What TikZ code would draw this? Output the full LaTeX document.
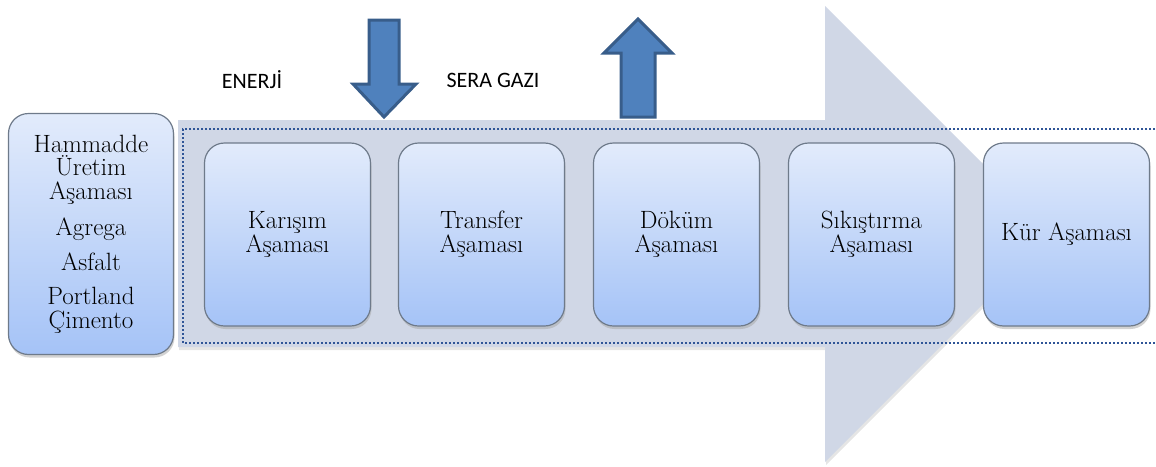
\documentclass[tikz,border=0pt]{standalone}
\usepackage{fontspec}
\usepackage{tikz}
\usetikzlibrary{shadows}
\newfontfamily\labelfont{Carlito}
\definecolor{flowgray}{HTML}{D0D7E6}
\definecolor{boxtop}{HTML}{E2EBFB}
\definecolor{boxbottom}{HTML}{A5C3F7}
\definecolor{boxedge}{HTML}{6E7A8A}
\definecolor{dotblue}{HTML}{2F5597}
\definecolor{arrowfill}{HTML}{4F81BD}
\definecolor{arrowedge}{HTML}{385D8A}
\newcommand{\stagetext}{\fontsize{25}{23.5}\selectfont}

\begin{document}
\begin{tikzpicture}[x=1pt,y=-1pt,
  stagebox/.style={draw=boxedge,line width=1.2pt,top color=boxtop,bottom color=boxbottom,rounded corners=20pt,align=center,font=\stagetext,drop shadow={shadow xshift=1pt,shadow yshift=-3pt,fill=black!35,opacity=0.5}},
  flowarrow/.style={fill=arrowfill,draw=arrowedge,line width=3pt,line join=miter},
  flowlabel/.style={font=\labelfont\fontsize{22}{24}\selectfont}]
\useasboundingbox (0,0) rectangle (1156,466);

% big process arrow
\fill[flowgray,drop shadow={shadow xshift=1pt,shadow yshift=-3pt,fill=black!20,opacity=0.5}] (178,120) -- (825,120) -- (825,6) -- (1053,234) -- (825,462) -- (825,347) -- (178,347) -- cycle;
\draw[dotblue,line width=2pt,dash pattern=on 2pt off 2pt] (1155,129) -- (183,129) -- (183,343) -- (1155,343);

% inputs and outputs
\draw[flowarrow] (369,20) -- (399,20) -- (399,84) -- (416,84) -- (384,117) -- (353,84) -- (369,84) -- cycle;
\draw[flowarrow] (621,117) -- (655,117) -- (655,53) -- (672,53) -- (638,19) -- (604,53) -- (621,53) -- cycle;
\node[flowlabel] (enerji) at (252,80) {ENERJİ};
\node[flowlabel] (seragazi) at (493,80) {SERA GAZI};

% stages
\node[stagebox,minimum width=165pt,minimum height=241pt] (hammadde) at (91,234) {Hammadde\\Üretim\\Aşaması\\[13pt]Agrega\\[11pt]Asfalt\\[11pt]Portland\\Çimento};
\node[stagebox,minimum width=166pt,minimum height=183pt] (karisim) at (287.5,234.5) {Karışım\\[0.5pt]Aşaması};
\node[stagebox,minimum width=166pt,minimum height=183pt] (transfer) at (481.5,234.5) {Transfer\\[0.5pt]Aşaması};
\node[stagebox,minimum width=166pt,minimum height=183pt] (dokum) at (676.5,234.5) {Döküm\\[0.5pt]Aşaması};
\node[stagebox,minimum width=166pt,minimum height=183pt] (sikistirma) at (871.5,234.5) {Sıkıştırma\\[0.5pt]Aşaması};
\node[stagebox,minimum width=166pt,minimum height=183pt] (kur) at (1066.5,234.5) {Kür Aşaması};
\end{tikzpicture}
\end{document}
